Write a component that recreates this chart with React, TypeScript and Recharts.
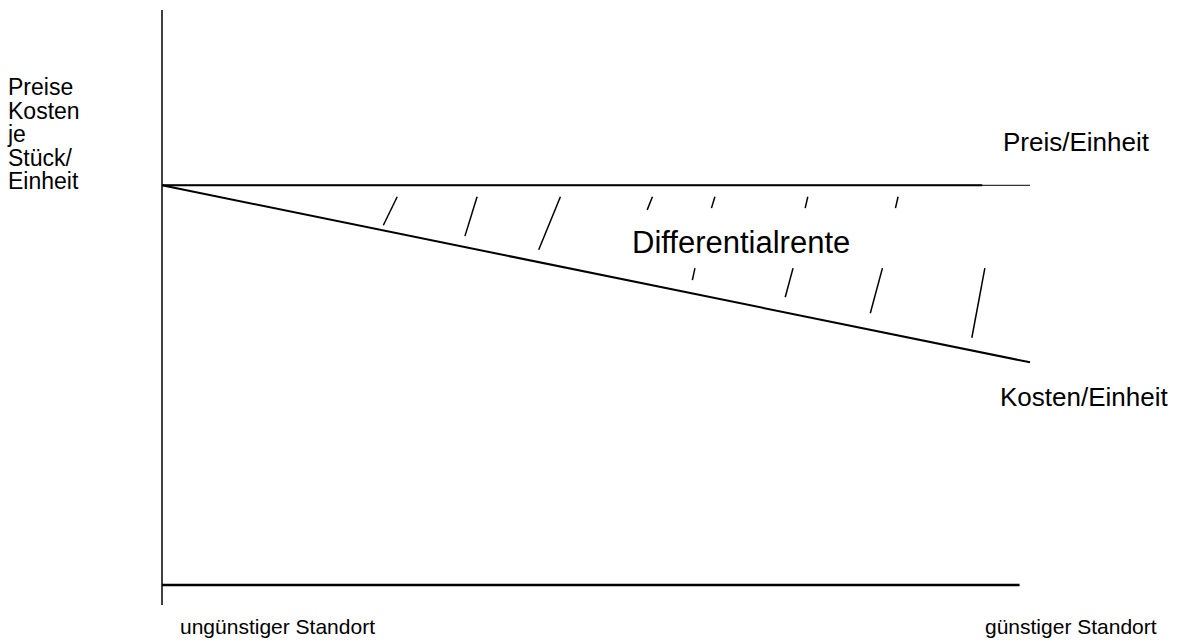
import React from "react";
import { ComposedChart, Line, XAxis, YAxis, ReferenceLine } from "recharts";

// Standort-Achse (0 = ungünstig, 100 = günstig)
const standort = [0, 100];
const preisJeEinheit = [70, 70];
const kostenJeEinheit = [70, 39];
const preisDickBis = 94.5;

// Schraffur der Differentialrente (Start- und Endpunkt je Strich)
const schraffur = [
  { x1: 27.1, y1: 68, x2: 25.5, y2: 63 },
  { x1: 36.3, y1: 68, x2: 34.9, y2: 61.1 },
  { x1: 45.9, y1: 68, x2: 43.4, y2: 58.7 },
  { x1: 56.5, y1: 68, x2: 55.9, y2: 65.7 },
  { x1: 63.7, y1: 68, x2: 63.3, y2: 66 },
  { x1: 74.4, y1: 68, x2: 74.1, y2: 66 },
  { x1: 84.8, y1: 68, x2: 84.5, y2: 66 },
  { x1: 61.4, y1: 55.5, x2: 61.1, y2: 53.4 },
  { x1: 72.7, y1: 55.5, x2: 71.8, y2: 50.4 },
  { x1: 83.0, y1: 55.5, x2: 81.6, y2: 47.6 },
  { x1: 94.8, y1: 55.5, x2: 93.3, y2: 43.3 },
];

const yLabel = ["Preise", "Kosten", "je", "Stück/", "Einheit"];

const FONT = '"Liberation Sans", Arial, sans-serif';

const data = standort.map((x, i) => ({
  x,
  preis: preisJeEinheit[i],
  kosten: kostenJeEinheit[i],
}));
const preisDick = [
  { x: standort[0], preis: preisJeEinheit[0] },
  { x: preisDickBis, preis: preisJeEinheit[1] },
];

const label = (left: number, top: number, size: number, text: string) => (
  <div
    style={{
      position: "absolute",
      left,
      top,
      fontSize: size,
      lineHeight: `${size}px`,
      fontFamily: FONT,
      color: "#000",
      whiteSpace: "nowrap",
    }}
  >
    {text}
  </div>
);

export default function App() {
  return (
    <div style={{ position: "absolute", left: 0, top: 0, width: 1179, height: 642, background: "#fff" }}>
      <ComposedChart
        width={1179}
        height={642}
        data={data}
        margin={{ top: 14, right: 149, bottom: 57, left: 162 }}
      >
        <XAxis type="number" dataKey="x" domain={[0, 100]} hide />
        <YAxis type="number" domain={[0, 100]} hide />
        <ReferenceLine
          segment={[{ x: 0, y: -3.5 }, { x: 0, y: 100.7 }]}
          stroke="#000"
          strokeWidth={1.5}
          ifOverflow="visible"
        />
        <ReferenceLine
          segment={[{ x: 0, y: 0 }, { x: 98.8, y: 0 }]}
          stroke="#000"
          strokeWidth={2.5}
          ifOverflow="visible"
        />
        <Line dataKey="preis" stroke="#000" strokeWidth={1} dot={false} isAnimationActive={false} />
        <Line
          data={preisDick}
          dataKey="preis"
          stroke="#000"
          strokeWidth={2}
          dot={false}
          isAnimationActive={false}
        />
        <Line dataKey="kosten" stroke="#000" strokeWidth={2} dot={false} isAnimationActive={false} />
        {schraffur.map((s, i) => (
          <ReferenceLine
            key={i}
            segment={[{ x: s.x1, y: s.y1 }, { x: s.x2, y: s.y2 }]}
            stroke="#000"
            strokeWidth={1.5}
            ifOverflow="visible"
          />
        ))}
      </ComposedChart>
      <div
        style={{
          position: "absolute",
          left: 8,
          top: 76,
          fontSize: 23,
          lineHeight: "23.5px",
          fontFamily: FONT,
        }}
      >
        {yLabel.map((t) => (
          <div key={t}>{t}</div>
        ))}
      </div>
      {label(1003, 129, 26, "Preis/Einheit")}
      {label(632, 227, 31, "Differentialrente")}
      {label(1000, 384, 26, "Kosten/Einheit")}
      {label(180, 616, 21, "ungünstiger Standort")}
      {label(985, 616, 21, "günstiger Standort")}
    </div>
  );
}
